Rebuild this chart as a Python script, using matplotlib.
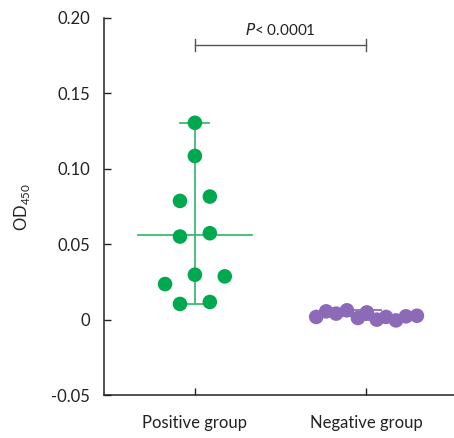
import numpy as np
import matplotlib.pyplot as plt

plt.rcParams['font.family'] = ['Lato', 'DejaVu Sans']

groups = ['Positive group', 'Negative group']

# horizontal jitter used in the original dot plot (in category units)
pos_offset = [0.0, 0.0, -0.087, 0.087, -0.087, 0.087, 0.0, 0.174, -0.174, -0.087, 0.087]
pos_values = [0.1305, 0.1085, 0.0787, 0.0816, 0.0551, 0.0573, 0.0298, 0.0287, 0.0236, 0.0104, 0.0117]

neg_offset = [-0.293, -0.235, -0.177, -0.114, -0.050, 0.002, 0.060, 0.114, 0.172, 0.230, 0.294]
neg_values = [0.0018, 0.0055, 0.0040, 0.0062, 0.0011, 0.0048, 0.0000, 0.0018, -0.0005, 0.0022, 0.0026]

p_text = '< 0.0001'

green = '#00a84f'
green_line = '#3dbb74'
purple = '#8d6ab8'

fig = plt.figure(figsize=(4.54, 4.38), dpi=100)
ax = fig.add_axes([0.229, 0.098, 0.771, 0.861])

for xc, offs, vals, dot_col, line_col in [(1, pos_offset, pos_values, green, green_line),
                                           (2, neg_offset, neg_values, purple, purple)]:
    vals = np.array(vals)
    mean = vals.mean()
    # mean line and range bar
    ax.plot([xc - 0.33, xc + 0.33], [mean, mean], color=line_col, lw=1.3, zorder=2)
    ax.plot([xc, xc], [vals.min(), vals.max()], color=line_col, lw=1.3, zorder=2)
    ax.plot([xc - 0.085, xc + 0.085], [vals.max(), vals.max()], color=line_col, lw=1.3, zorder=2)
    ax.plot([xc - 0.085, xc + 0.085], [vals.min(), vals.min()], color=line_col, lw=1.3, zorder=2)
    ax.scatter(xc + np.array(offs), vals, s=110, color=dot_col, edgecolors='none', zorder=3)

# significance bracket
yb = 0.182
ax.plot([1, 2], [yb, yb], color='#555555', lw=1.0)
ax.plot([1, 1], [yb - 0.004, yb + 0.004], color='#555555', lw=1.0)
ax.plot([2, 2], [yb - 0.004, yb + 0.004], color='#555555', lw=1.0)
ax.text(1.5, yb + 0.0045, r'$\mathit{P}$' + p_text, ha='center', va='bottom',
        fontsize=11, color='#222222')

ax.set_xlim(0.47, 2.51)
ax.set_ylim(-0.05, 0.20)
ax.set_xticks([1, 2])
ax.set_xticklabels(groups)
ax.set_yticks([-0.05, 0, 0.05, 0.10, 0.15, 0.20])
ax.set_yticklabels(['-0.05', '0', '0.05', '0.10', '0.15', '0.20'])
ax.tick_params(axis='both', direction='in', length=5, width=1, labelsize=12,
               colors='#222222', pad=10)
ax.tick_params(axis='x', pad=14)
ax.set_ylabel(r'OD$_{\mathregular{450}}$', fontsize=12, color='#222222', labelpad=14)

for side in ['top', 'right']:
    ax.spines[side].set_visible(False)
for side in ['left', 'bottom']:
    ax.spines[side].set_linewidth(1.1)
    ax.spines[side].set_color('#222222')

fig.savefig('out.png', dpi=100)
